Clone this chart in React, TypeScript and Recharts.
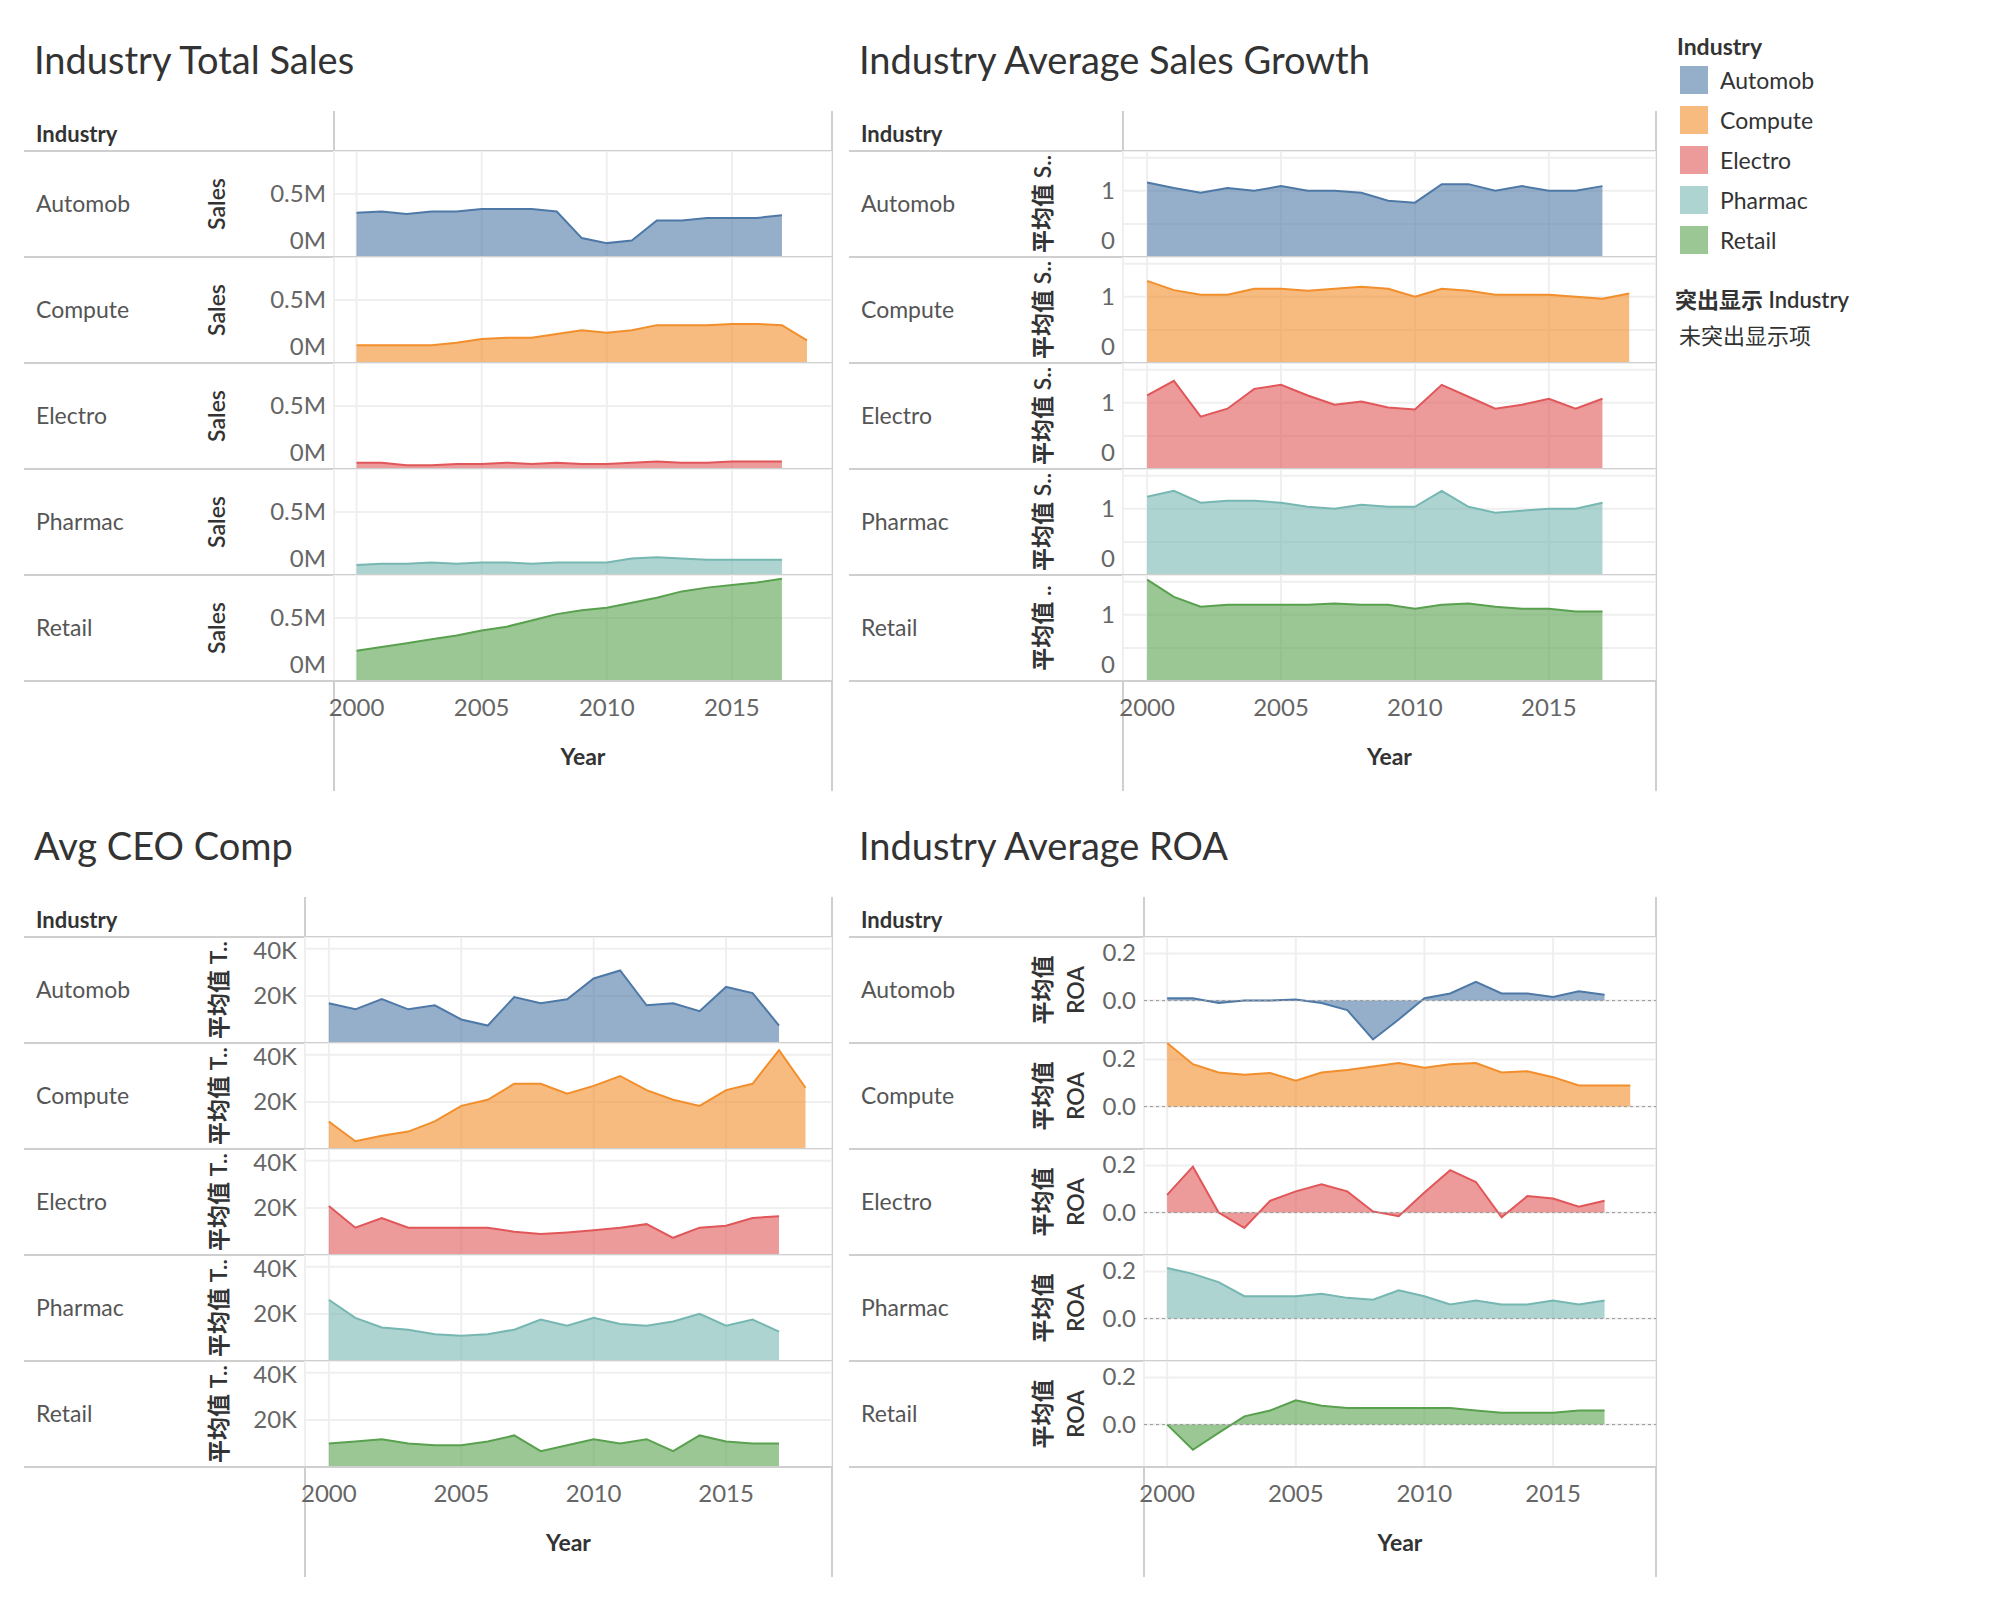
import React from 'react';
import { Area, AreaChart, CartesianGrid, ReferenceLine, XAxis, YAxis } from 'recharts';

const years = [2000, 2001, 2002, 2003, 2004, 2005, 2006, 2007, 2008, 2009, 2010, 2011, 2012, 2013, 2014, 2015, 2016, 2017, 2018];
const industries = ['Automob', 'Compute', 'Electro', 'Pharmac', 'Retail'];
const colors = ['#4e79a7', '#f28e2b', '#e15759', '#76b7b2', '#59a14f'];
const yearTicks = [2000, 2005, 2010, 2015];

// total sales (millions), Compute has 2018
const salesAutomob = [0.35, 0.36, 0.34, 0.36, 0.36, 0.38, 0.38, 0.38, 0.36, 0.15, 0.11, 0.13, 0.29, 0.29, 0.31, 0.31, 0.31, 0.33];
const salesCompute = [0.14, 0.14, 0.14, 0.14, 0.16, 0.19, 0.2, 0.2, 0.23, 0.26, 0.24, 0.26, 0.3, 0.3, 0.3, 0.31, 0.31, 0.3, 0.18];
const salesElectro = [0.05, 0.05, 0.03, 0.03, 0.04, 0.04, 0.05, 0.04, 0.05, 0.04, 0.04, 0.05, 0.06, 0.05, 0.05, 0.06, 0.06, 0.06];
const salesPharmac = [0.08, 0.09, 0.09, 0.1, 0.09, 0.1, 0.1, 0.09, 0.1, 0.1, 0.1, 0.13, 0.14, 0.13, 0.12, 0.12, 0.12, 0.12];
const salesRetail = [0.24, 0.27, 0.3, 0.33, 0.36, 0.4, 0.43, 0.48, 0.53, 0.56, 0.58, 0.62, 0.66, 0.71, 0.74, 0.76, 0.78, 0.81];

const growthAutomob = [1.125, 1.04, 0.97, 1.04, 1.0, 1.07, 1.0, 1.0, 0.97, 0.85, 0.82, 1.1, 1.1, 1.0, 1.07, 1.0, 1.0, 1.07];
const growthCompute = [1.24, 1.1, 1.03, 1.03, 1.12, 1.12, 1.09, 1.12, 1.15, 1.12, 1.0, 1.12, 1.09, 1.03, 1.03, 1.03, 1.0, 0.97, 1.05];
const growthElectro = [1.11, 1.33, 0.79, 0.91, 1.21, 1.27, 1.11, 0.97, 1.02, 0.93, 0.9, 1.27, 1.09, 0.91, 0.97, 1.06, 0.91, 1.06];
const growthPharmac = [1.18, 1.27, 1.09, 1.12, 1.12, 1.09, 1.03, 1.0, 1.06, 1.03, 1.03, 1.27, 1.03, 0.94, 0.97, 1.0, 1.0, 1.09];
const growthRetail = [1.53, 1.27, 1.12, 1.15, 1.15, 1.15, 1.15, 1.17, 1.15, 1.15, 1.09, 1.15, 1.17, 1.12, 1.09, 1.09, 1.05, 1.05];

const ceoAutomob = [16.9, 14.3, 18.6, 14.3, 16, 10, 7.4, 19.5, 16.9, 18.6, 27.4, 30.8, 16, 16.9, 13.5, 23.8, 21.2, 7.4];
const ceoCompute = [11.7, 3.3, 5.6, 7.4, 11.7, 18.3, 20.9, 27.7, 27.7, 23.5, 26.8, 31, 25, 20.9, 18.3, 25, 27.7, 42, 26];
const ceoElectro = [20.8, 11.6, 15.7, 11.6, 11.6, 11.6, 11.6, 9.9, 8.9, 9.6, 10.5, 11.6, 13.1, 7.3, 11.6, 12.4, 15.7, 16.5];
const ceoPharmac = [26, 18.3, 14.2, 13.3, 11.4, 10.7, 11.4, 13.3, 17.6, 15, 18.3, 15.7, 15, 16.8, 20, 15, 17.6, 12.5];
const ceoRetail = [10, 10.8, 11.8, 10, 9.2, 9.2, 10.8, 13.4, 6.7, 9.2, 11.8, 10, 11.8, 6.7, 13.4, 10.8, 10, 10];

const roaAutomob = [0.01, 0.01, -0.01, 0, 0, 0.005, -0.01, -0.04, -0.165, -0.08, 0.01, 0.03, 0.08, 0.03, 0.03, 0.015, 0.04, 0.025];
const roaCompute = [0.27, 0.18, 0.145, 0.135, 0.143, 0.11, 0.145, 0.155, 0.17, 0.185, 0.165, 0.18, 0.185, 0.145, 0.15, 0.125, 0.09, 0.09, 0.09];
const roaElectro = [0.075, 0.195, 0, -0.065, 0.05, 0.09, 0.12, 0.09, 0.005, -0.015, 0.085, 0.18, 0.13, -0.02, 0.07, 0.06, 0.025, 0.05];
const roaPharmac = [0.215, 0.19, 0.155, 0.095, 0.095, 0.095, 0.105, 0.088, 0.08, 0.12, 0.095, 0.06, 0.077, 0.06, 0.06, 0.077, 0.06, 0.077];
const roaRetail = [0, -0.107, -0.035, 0.035, 0.06, 0.103, 0.08, 0.07, 0.07, 0.07, 0.07, 0.07, 0.06, 0.05, 0.05, 0.05, 0.06, 0.06];

const toRows = (vals: number[]) => vals.map((v, i) => ({ year: years[i], v }));

const FONT = 'Lato, "Noto Sans", "Noto Sans CJK SC", sans-serif';
const GRID = '#efefef';
const LINE = '#cfcfcf';
const ROW_H = 106;
const DOMAIN: [number, number] = [1999.1, 2019];

type PanelProps = {
	left: number;
	top: number;
	title: string;
	plotLeft: number;
	plotRight: number;
	labelX: number;
	label2X?: number;
	labels: string[];
	label2?: string;
	series: number[][];
	domain: [number, number];
	ticks: number[];
	fmt: (v: number) => string;
	zeroLine?: boolean;
};

const Rot = (p: { x: number; y: number; text: string }) => (
	<div
		style={{
			position: 'absolute',
			left: p.x,
			top: p.y,
			transform: 'translate(-50%,-50%) rotate(-90deg)',
			whiteSpace: 'nowrap',
			fontSize: 23,
			color: '#333',
			fontWeight: 600,
		}}
	>
		{p.text}
	</div>
);

const Panel = (p: PanelProps) => {
	const rowsTop = p.top + 111;
	const rowsBottom = rowsTop + ROW_H * 5;
	const axisW = 90;
	const plotW = p.plotRight - p.plotLeft;
	const pad = 45;
	const YTick = (t: any) => {
		const txt = p.fmt(t.payload.value);
		if (!txt) return null;
		const y = Math.max(14, Math.min(t.y, ROW_H - 16));
		return (
			<text x={t.x} y={y} dy={8} textAnchor="end" fill="#666" fontSize={24} fontFamily={FONT}>
				{txt}
			</text>
		);
	};
	return (
		<>
			<div style={{ position: 'absolute', left: p.left + 10, top: p.top - 4, fontSize: 38, color: '#333' }}>{p.title}</div>
			<div style={{ position: 'absolute', left: p.left + 12, top: p.top + 80, fontSize: 22, fontWeight: 700, color: '#333' }}>Industry</div>
			<div style={{ position: 'absolute', left: p.plotLeft - 1, top: p.top + 71, width: 2, height: rowsBottom + 110 - p.top - 71, background: LINE }} />
			<div style={{ position: 'absolute', left: p.plotRight - 1, top: p.top + 71, width: 2, height: rowsBottom + 110 - p.top - 71, background: LINE }} />
			{p.series.map((vals, i) => {
				const rt = rowsTop + i * ROW_H;
				return (
					<React.Fragment key={i}>
						<div style={{ position: 'absolute', left: p.left, top: rt - 1, width: p.plotRight - p.left, height: 2, background: LINE }} />
						<div style={{ position: 'absolute', left: p.left + 12, top: rt + ROW_H / 2 - 15, fontSize: 23, color: '#555' }}>{industries[i]}</div>
						<Rot x={p.labelX} y={rt + ROW_H / 2} text={p.labels[i]} />
						{p.label2 && <Rot x={p.label2X!} y={rt + ROW_H / 2} text={p.label2} />}
						<div style={{ position: 'absolute', left: p.plotLeft - axisW, top: rt }}>
							<AreaChart width={axisW + plotW} height={ROW_H} data={toRows(vals)} margin={{ top: 0, right: 0, bottom: 0, left: 0 }}>
								<CartesianGrid stroke={GRID} strokeWidth={2} />
								<XAxis dataKey="year" type="number" domain={DOMAIN} ticks={yearTicks} interval={0} hide />
								<YAxis
									type="number"
									domain={p.domain}
									ticks={p.ticks}
									interval={0}
									width={axisW}
									axisLine={false}
									tickLine={false}
									tick={YTick}
									allowDataOverflow
								/>
								{p.zeroLine && <ReferenceLine y={0} stroke="#999" strokeDasharray="3 3" />}
								<Area
									dataKey="v"
									type="linear"
									baseValue={0}
									stroke={colors[i]}
									strokeWidth={2}
									fill={colors[i]}
									fillOpacity={0.6}
									isAnimationActive={false}
								/>
							</AreaChart>
						</div>
					</React.Fragment>
				);
			})}
			<div style={{ position: 'absolute', left: p.left, top: rowsBottom - 1, width: p.plotRight - p.left, height: 2, background: LINE }} />
			<div style={{ position: 'absolute', left: p.plotLeft - pad, top: rowsBottom + 10 }}>
				<AreaChart width={plotW + pad * 2} height={50} data={toRows(salesRetail)} margin={{ top: 0, right: pad, bottom: 0, left: pad }}>
					<XAxis
						dataKey="year"
						type="number"
						domain={DOMAIN}
						ticks={yearTicks}
						interval={0}
						axisLine={false}
						tickLine={false}
						tick={{ fill: '#666', fontSize: 24, fontFamily: FONT }}
						height={50}
					/>
					<YAxis hide domain={[0, 1]} />
					<Area dataKey="v" stroke="none" fill="none" isAnimationActive={false} />
				</AreaChart>
			</div>
			<div style={{ position: 'absolute', left: p.plotLeft, width: plotW, top: rowsBottom + 61, textAlign: 'center', fontSize: 23, fontWeight: 700, color: '#333' }}>Year</div>
		</>
	);
};

const fmtSales = (v: number) => (v === 0 ? '0M' : v === 0.5 ? '0.5M' : '');
const fmtGrowth = (v: number) => (Number.isInteger(v) ? `${v}` : '');
const fmtCeo = (v: number) => (v > 0 ? `${v}K` : '');
const fmtRoa = (v: number) => v.toFixed(1);

export default function App() {
	return (
		<div style={{ position: 'absolute', left: 0, top: 0, width: 2000, height: 1600, background: '#fff', fontFamily: FONT, color: '#333' }}>
			<Panel
				left={24}
				top={40}
				title="Industry Total Sales"
				plotLeft={334}
				plotRight={832}
				labelX={216}
				labels={['Sales', 'Sales', 'Sales', 'Sales', 'Sales']}
				series={[salesAutomob, salesCompute, salesElectro, salesPharmac, salesRetail]}
				domain={[0, 0.84]}
				ticks={[0, 0.5]}
				fmt={fmtSales}
			/>
			<Panel
				left={849}
				top={40}
				title="Industry Average Sales Growth"
				plotLeft={1123}
				plotRight={1656}
				labelX={1041}
				labels={['平均值 S..', '平均值 S..', '平均值 S..', '平均值 S..', '平均值 ..']}
				series={[growthAutomob, growthCompute, growthElectro, growthPharmac, growthRetail]}
				domain={[0, 1.6]}
				ticks={[0, 0.5, 1, 1.5]}
				fmt={fmtGrowth}
			/>
			<Panel
				left={24}
				top={826}
				title="Avg CEO Comp"
				plotLeft={305}
				plotRight={832}
				labelX={217}
				labels={['平均值 T..', '平均值 T..', '平均值 T..', '平均值 T..', '平均值 T..']}
				series={[ceoAutomob, ceoCompute, ceoElectro, ceoPharmac, ceoRetail]}
				domain={[0, 45]}
				ticks={[20, 40]}
				fmt={fmtCeo}
			/>
			<Panel
				left={849}
				top={826}
				title="Industry Average ROA"
				plotLeft={1144}
				plotRight={1656}
				labelX={1041}
				label2X={1075}
				labels={['平均值', '平均值', '平均值', '平均值', '平均值']}
				label2="ROA"
				series={[roaAutomob, roaCompute, roaElectro, roaPharmac, roaRetail]}
				domain={[-0.18, 0.27]}
				ticks={[0, 0.2]}
				fmt={fmtRoa}
				zeroLine
			/>
			<div style={{ position: 'absolute', left: 1677, top: 32, fontSize: 23, fontWeight: 700 }}>Industry</div>
			{industries.map((name, i) => (
				<div key={name} style={{ position: 'absolute', left: 1680, top: 66 + i * 40, display: 'flex', alignItems: 'center' }}>
					<div style={{ width: 28, height: 28, background: colors[i], opacity: 0.6 }} />
					<div style={{ marginLeft: 12, fontSize: 23, color: '#333' }}>{name}</div>
				</div>
			))}
			<div style={{ position: 'absolute', left: 1675, top: 282, fontSize: 22, fontWeight: 600 }}>突出显示 Industry</div>
			<div style={{ position: 'absolute', left: 1679, top: 318, fontSize: 22 }}>未突出显示项</div>
		</div>
	);
}
